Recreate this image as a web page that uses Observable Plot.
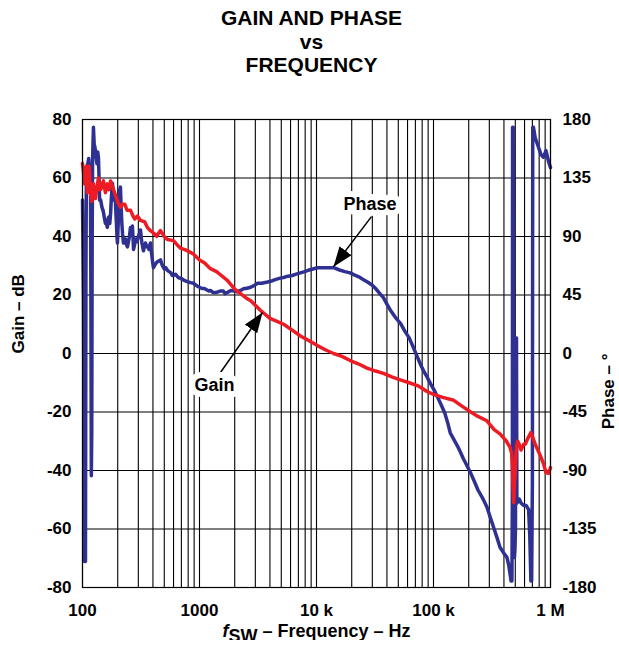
<!DOCTYPE html>
<html>
<head>
<meta charset="utf-8">
<script src="https://cdn.jsdelivr.net/npm/d3@7"></script>
<script src="https://cdn.jsdelivr.net/npm/@observablehq/plot@0.6"></script>
<style>
  html, body { margin: 0; padding: 0; background: #fff; }
  body { width: 619px; font-family: "Liberation Sans", Arial, sans-serif; font-weight: bold; color: #000; }
  #title { height: 92px; box-sizing: border-box; padding-top: 6px; text-align: center; font-size: 21px; line-height: 23.5px; padding-left: 4px; }
  #xlabel { text-align: center; font-size: 18px; line-height: 18px; padding-left: 14px; }
  #xlabel sub { font-size: 18px; vertical-align: -5px; line-height: 0; }
  svg { display: block; overflow: visible; }
</style>
</head>
<body>
<div id="title">GAIN AND PHASE<br>vs<br>FREQUENCY</div>
<div id="chart"></div>
<div id="xlabel"><i>f</i><sub>SW</sub> – Frequency – Hz</div>
<script>
// Gain (dB) vs frequency (Hz)
const gainData = [
  [100,65],[102,62],[104,58],[106,60],[108,64],[110,55],[112,58],[114,64],[117,55],[120,52],[124,58],[127,54],[129,53],
  [133,57],[137,60],[140,56],[143,56],[147,58],[151,59],[157,55],[163,58],[168,56],[174,59],[184,56],[192,54],[199,52],
  [211,50],[220,51],[230,51],[240,49],[257,49],[270,47],[280,46],[295,47],[313,45.5],[340,45],[360,43],[381,42],
  [410,41],[430,40],[445,41],[464,42],[500,40],[532,39],[600,38.6],[650,37],[688,36],[750,35.5],[800,35],[887,34],
  [1000,32],[1100,31],[1240,29],[1400,28],[1500,27],[1730,25],[2000,22],[2240,20.5],[2500,19],[2740,18],[3000,16.5],
  [3330,14.7],[4000,12],[4600,11],[5230,10],[6200,8],[7290,6],[8500,4.5],[10180,2.7],[12000,1.2],[14000,0],
  [16500,-1],[19400,-2.4],[23000,-3.6],[27000,-5],[32000,-6],[37300,-6.8],[44000,-8],[52000,-9],[62000,-10],
  [73000,-11],[78000,-11.6],[88000,-13],[100000,-14],[120000,-15],[149000,-16],[175000,-18],[208000,-20],
  [240000,-21.5],[286000,-23],[330000,-26],[370000,-27.5],[400000,-29],[420000,-30],[450000,-32],[465000,-34],
  [472000,-38],[478000,-45],[485000,-51],[492000,-44],[500000,-40],[507000,-34],[515000,-31],[525000,-30],
  [540000,-31],[560000,-33],[590000,-31],[610000,-31],[640000,-29],[680000,-27],[710000,-29],[740000,-31],
  [800000,-34],[870000,-37.6],[915000,-40.7],[960000,-41],[1000000,-39]
];

// Phase (degrees) vs frequency (Hz)
const phaseData = [
  [100,118],[102,40],[104,-160],[106,-160],[107,60],[108,143],[111,146],[113,150],[115,140],[117,130],[118,40],
  [119,-94],[120,-60],[121,90],[122,150],[124,174],[126,160],[127,160],[129,156],[131,150],[133,146],[135,155],
  [137,150],[139,130],[140,118],[143,118],[147,112],[150,110],[154,104],[157,100],[160,100],[163,97],[166,104],
  [168,105],[171,100],[174,108],[176,118],[178,125],[180,131],[183,126],[186,118],[189,121],[191,118],[193,108],
  [195,100],[197,90],[199,85],[202,100],[205,120],[208,126],[211,128],[214,112],[217,100],[220,92],[224,85],
  [229,88],[233,88],[237,84],[242,82],[247,86],[252,90],[257,97],[262,92],[267,98],[270,90],[273,80],[279,84],
  [285,88],[292,86],[300,90],[306,92],[313,95],[318,89],[322,85],[327,82],[332,79],[338,82],[345,85],[352,83],
  [359,82],[365,81],[370,80],[375,83],[381,85],[386,80],[392,75],[398,70],[404,66],[415,68],[430,70],[445,71],
  [464,72],[480,68],[500,65],[515,66],[532,64],[550,63],[570,62],[585,60],[600,60],[625,61],[650,59],[670,58],
  [688,58],[720,57],[750,56],[775,55.5],[800,55],[840,54.5],[887,54],[920,53],[950,52],[1000,51],[1050,50],
  [1100,50],[1150,49],[1200,48],[1240,48.5],[1300,47],[1400,47],[1500,48],[1600,48],[1650,46],[1730,47],
  [1850,48.5],[2000,48],[2100,47.5],[2240,48.5],[2400,50],[2500,50],[2740,51],[2900,52],[3140,54],[3400,54],
  [3820,55],[4200,56],[4500,57],[4900,58],[5230,58.5],[5700,59.5],[6200,60],[6700,61],[7290,62],[7900,63],
  [8500,64],[9300,65],[10180,66],[11000,66],[12000,66],[13000,66],[14000,66],[15000,65],[16000,64],[17500,63],
  [19400,62],[21000,60.5],[23000,59],[25000,57],[27300,55],[30000,52.5],[32000,50],[34500,46.5],[37300,43],
  [40000,38],[43000,33],[47000,28],[52400,23],[57000,17],[62000,12],[67000,5],[73000,-3],[78000,-9],[83000,-14],
  [88000,-18],[94000,-23],[101000,-28],[109000,-34],[117000,-40],[125000,-46],[132000,-53],[139000,-61],
  [149000,-66],[160000,-71],[170000,-76],[180000,-81],[190000,-85],[200000,-89],[208000,-92],[225000,-99],
  [240000,-105],[262000,-111],[286000,-118],[308000,-127],[330000,-135],[350000,-142],[370000,-149],
  [395000,-153],[425000,-157],[440000,-163],[455000,-172],[460000,-175],[468000,-175],[472000,-110],
  [474000,174],[480000,174],[483000,-80],[486000,-157],[492000,-157],[497000,-150],[502000,-135],
  [506000,12],[512000,12],[516000,-115],[540000,-112],[560000,-115],[590000,-117],[620000,-117],[650000,-120],
  [665000,-140],[680000,-175],[690000,-175],[700000,-100],[705000,174],[715000,174],[740000,166],[780000,160],
  [830000,153],[870000,151],[915000,156],[960000,148],[1000000,143]
];

const gainTicks = [-80, -60, -40, -20, 0, 20, 40, 60, 80];
const phaseTickLabels = ["-180", "-135", "-90", "-45", "0", "45", "90", "135", "180"];
const freqTicks = [100, 1000, 10000, 100000, 1000000];
const freqTickLabels = ["100", "1000", "10 k", "100 k", "1 M"];

const labels = [
  {text: "Phase", f: 28650, v: 51.1},
  {text: "Gain", f: 1343, v: -10.9}
];
const arrows = [
  {f1: 29500, v1: 46.8, f2: 13970, v2: 29.7},
  {f1: 1511, v1: -6.5, f2: 3455, v2: 14.0}
];

// vertical grid: every 1..9 multiple in each decade
const gridFreqs = [];
for (let dec = 100; dec < 1e6; dec *= 10) for (let k = 1; k < 10; k++) gridFreqs.push(dec * k);
gridFreqs.push(1e6);

const toGainScale = p => p * 80 / 180;
const BLUE = "#2e3192", RED = "#ed1c24";

const chart = Plot.plot({
  width: 619,
  height: 530,
  marginTop: 27,
  marginBottom: 35,
  marginLeft: 82,
  marginRight: 69,
  style: {fontFamily: "'Liberation Sans', Arial, sans-serif", fontWeight: "bold", fontSize: "17px", color: "#000", background: "#fff", overflow: "visible"},
  x: {type: "log", domain: [100, 1e6]},
  y: {domain: [-80, 80]},
  marks: [
    Plot.ruleX(gridFreqs, {stroke: "#000", strokeWidth: 1.1}),
    Plot.ruleY(gainTicks, {stroke: "#000", strokeWidth: 1.1}),
    Plot.line(phaseData, {x: d => d[0], y: d => toGainScale(d[1]), stroke: BLUE, strokeWidth: 3.5}),
    Plot.line(gainData, {x: d => d[0], y: d => d[1], stroke: RED, strokeWidth: 3.5}),
    Plot.link(arrows, {x1: "f1", y1: "v1", x2: "f2", y2: "v2", stroke: "#000", strokeWidth: 1.5}),
    Plot.text(labels, {x: "f", y: "v", text: "text", fontSize: 18, fontWeight: "bold", fill: "#000", stroke: "#fff", strokeWidth: 12, paintOrder: "stroke"}),
    Plot.frame({stroke: "#000", strokeWidth: 1.2}),
    Plot.axisY(gainTicks, {anchor: "left", tickSize: 0, tickPadding: 11, tickFormat: d => String(d), label: null, fontSize: 17}),
    Plot.axisY(gainTicks, {anchor: "right", tickSize: 0, tickPadding: 12, tickFormat: d => phaseTickLabels[gainTicks.indexOf(d)], label: null, fontSize: 17}),
    Plot.axisX(freqTicks, {anchor: "bottom", tickSize: 0, tickPadding: 16, tickFormat: d => freqTickLabels[freqTicks.indexOf(d)], label: null, fontSize: 17}),
    Plot.text(["Gain – dB"], {frameAnchor: "left", dx: -64, rotate: -90, fontSize: 17, fontWeight: "bold"}),
    Plot.text(["Phase – °"], {frameAnchor: "right", dx: 58, rotate: -90, fontSize: 17, fontWeight: "bold"})
  ]
});

// filled arrow heads
const svg = d3.select(chart);
const marker = svg.append("defs").append("marker")
  .attr("id", "ahead")
  .attr("markerUnits", "userSpaceOnUse")
  .attr("viewBox", "-20 -8 21 16")
  .attr("refX", 0).attr("refY", 0)
  .attr("markerWidth", 21).attr("markerHeight", 16)
  .attr("orient", "auto");
marker.append("path").attr("d", "M-20,-7.5L0,0L-20,7.5Z").attr("fill", "#000");
svg.selectAll('g[aria-label="link"] path').attr("marker-end", "url(#ahead)");

document.getElementById("chart").appendChild(chart);
</script>
</body>
</html>
